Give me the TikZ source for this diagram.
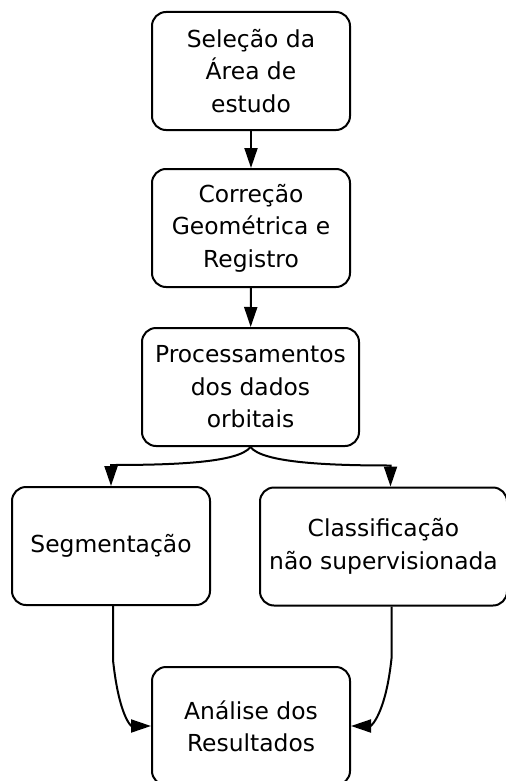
\documentclass[tikz,border=0pt]{standalone}
\usepackage{fontspec}
\setmainfont{DejaVu Sans}
\usetikzlibrary{calc,arrows.meta}

\begin{document}
\begin{tikzpicture}[x=0.5pt, y=-0.5pt,
    etapa/.style={draw, line width=1pt, rounded corners=7pt, align=center,
        inner sep=0pt, minimum height=59pt,
        font=\fontsize{11.7}{16.2}\selectfont},
    seta/.style={line width=1pt, -{Triangle[length=10pt, width=6.5pt]}}]
    % keep the page at the size of the figure
    \useasboundingbox (0,0) rectangle (506,781);

    % main column
    \node [etapa, minimum width=99pt] (selecao) at (251,71) {Seleção da\\Área de\\estudo};
    \node [etapa, minimum width=99pt] (correcao) at (251,228) {Correção\\Geométrica e\\Registro};
    \node [etapa, minimum width=108.5pt] (proc) at (250.5,387) {Processamentos\\dos dados\\orbitais};
    % the two branches
    \node [etapa, minimum width=99pt] (segm) at (111,546) {Segmentação};
    \node [etapa, minimum width=123.5pt] (classif) at (383.5,546.5) {Classificação\\não supervisionada};
    % final step
    \node [etapa, minimum width=99pt] (analise) at (251,726) {Análise dos\\Resultados};

    % straight arrows
    \draw [seta] (selecao) -- (correcao);
    \draw [seta] (correcao) -- (proc);
    % split below the processing step
    \draw [seta] (proc.south) .. controls +(-12,16) and +(60,0) .. ($(segm.north)+(0,-21)$) -- (segm.north);
    \draw [seta] (proc.south) .. controls +(12,16) and +(-60,0) .. ($(classif.north)+(7,-21)$) -- ($(classif.north)+(7,0)$);
    % join into the last step
    \draw [seta] ($(segm.south)+(2,0)$) -- ++(0,54) .. controls +(6,56) and +(-20,0) .. (analise.west);
    \draw [seta] ($(classif.south)+(8,0)$) -- ++(0,52) .. controls +(-6,56) and +(20,0) .. (analise.east);
\end{tikzpicture}
\end{document}
